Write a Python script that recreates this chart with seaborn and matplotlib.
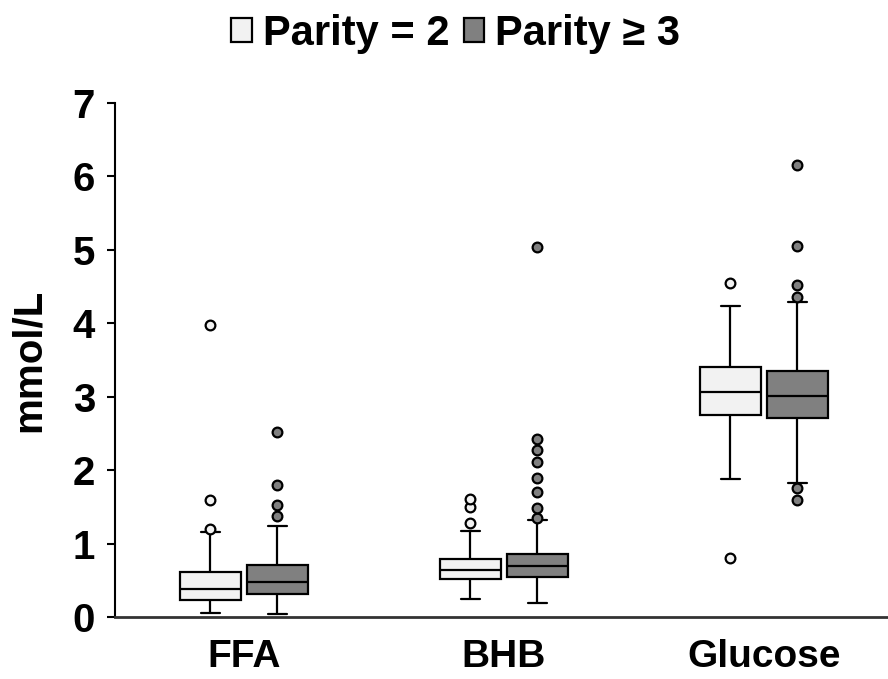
import matplotlib
matplotlib.use("Agg")
import matplotlib.pyplot as plt
import numpy as np
import pandas as pd
import seaborn as sns

# summary values (mmol/L)
metabolites = ["FFA", "BHB", "Glucose"]
parities = ["Parity = 2", "Parity \u2265 3"]

q1_p2 = [0.234, 0.517, 2.756]
med_p2 = [0.385, 0.644, 3.063]
q3_p2 = [0.610, 0.795, 3.410]
wlo_p2 = [0.05, 0.244, 1.883]
whi_p2 = [1.16, 1.166, 4.234]
out_p2 = [[1.20, 1.60, 3.97], [1.278, 1.493, 1.61], [4.551, 0.805]]

q1_p3 = [0.320, 0.551, 2.717]
med_p3 = [0.483, 0.698, 3.005]
q3_p3 = [0.707, 0.859, 3.351]
wlo_p3 = [0.04, 0.185, 1.82]
whi_p3 = [1.24, 1.315, 4.29]
out_p3 = [[1.376, 1.53, 1.795, 2.52],
          [1.346, 1.478, 1.707, 1.888, 2.117, 2.273, 2.429, 5.034],
          [4.356, 4.517, 5.059, 6.161, 1.751, 1.59]]

light = "#f2f2f2"
dark = "#808080"

# build a sample per box whose quartiles / whiskers / fliers equal the summary
rows = []
summ = {parities[0]: (q1_p2, med_p2, q3_p2, wlo_p2, whi_p2, out_p2),
        parities[1]: (q1_p3, med_p3, q3_p3, wlo_p3, whi_p3, out_p3)}
for par, (q1, med, q3, wlo, whi, out) in summ.items():
    for i, m in enumerate(metabolites):
        vals = [q1[i]] * 20 + [med[i]] * 20 + [q3[i]] * 20 + [wlo[i], whi[i]] + out[i]
        for v in vals:
            rows.append({"metabolite": m, "parity": par, "value": v})
df = pd.DataFrame(rows)

sns.set_style("white")
plt.rcParams["font.family"] = ["Liberation Sans", "DejaVu Sans"]
plt.rcParams["font.weight"] = "bold"
plt.rcParams["text.color"] = "black"
plt.rcParams["axes.labelcolor"] = "black"
plt.rcParams["xtick.color"] = "black"
plt.rcParams["ytick.color"] = "black"

fig = plt.figure(figsize=(8.88, 6.79), dpi=100)
ax = fig.add_axes([0.129, 0.0913, 0.871, 0.757])

sns.boxplot(data=df, x="metabolite", y="value", hue="parity",
            order=metabolites, hue_order=parities,
            palette=[light, dark], width=0.515, gap=0.087, whis=1.5,
            linecolor="black", linewidth=1.6, fliersize=7, capwidths=0.072, ax=ax)

# fliers as filled circles in their box colour
for ln in ax.lines:
    xd = np.asarray(ln.get_xdata(), dtype=float)
    if ln.get_marker() not in (None, "None", "") and len(xd):
        ln.set_marker("o")
        ln.set_markeredgecolor("black")
        ln.set_markeredgewidth(1.6)
        ln.set_markerfacecolor(light if xd[0] < np.round(xd[0]) else dark)

ax.set_ylim(0, 7)
ax.set_xlim(-0.497, 2.478)
ax.set_yticks(range(0, 8))
ax.set_xlabel("")
ax.set_ylabel("mmol/L", fontsize=29, fontweight="bold", labelpad=18)
ax.tick_params(axis="y", labelsize=29, length=6, width=1.5, direction="out", left=True, pad=8)
ax.tick_params(axis="x", labelsize=28, length=0, pad=16)
for lab in ax.get_xticklabels() + ax.get_yticklabels():
    lab.set_fontweight("bold")
for s in ["top", "right"]:
    ax.spines[s].set_visible(False)
ax.spines["left"].set_linewidth(1.5)
ax.spines["left"].set_color("black")
ax.spines["bottom"].set_linewidth(2)
ax.spines["bottom"].set_color("#333333")

sns.move_legend(ax, "upper center", bbox_to_anchor=(0.513, 1.035),
                bbox_transform=fig.transFigure, ncol=2, title=None, frameon=False,
                fontsize=30, handlelength=0.5, handleheight=0.5,
                handletextpad=0.25, columnspacing=0.35)
for t in ax.get_legend().get_texts():
    t.set_fontweight("bold")

fig.savefig("out.png", dpi=100)
